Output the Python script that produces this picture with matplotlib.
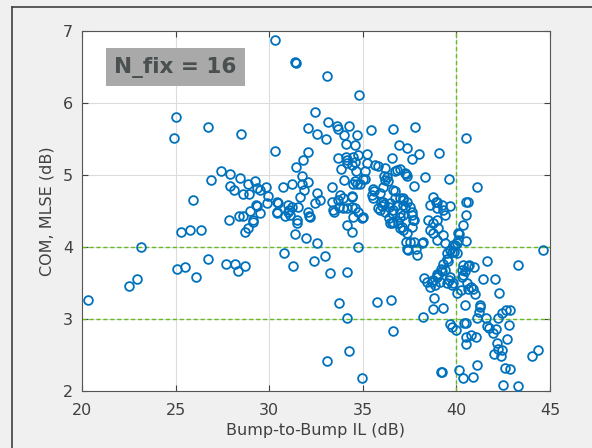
import numpy as np
import matplotlib
matplotlib.use('Agg')
import matplotlib.pyplot as plt
from matplotlib.lines import Line2D

# bump-to-bump IL (dB) and COM MLSE (dB)
il_db = [
    30.31, 31.39, 31.42, 33.10, 34.78, 25.00, 24.93, 26.73, 28.49, 30.29,
    32.45, 33.16, 32.09, 32.54, 33.60, 33.70, 34.28, 33.03, 34.01, 34.67,
    34.08, 34.60, 35.45, 36.60, 37.79, 40.51, 32.09, 31.82, 36.92, 37.38,
    38.00, 39.07, 37.61, 35.20, 33.69, 34.10, 34.49, 34.14, 34.40, 31.43,
    33.82, 35.65, 35.83, 36.56, 35.24, 34.64, 36.19, 36.81, 37.31, 31.75,
    31.23, 30.75, 32.09, 38.32, 39.60, 33.98, 34.70, 35.12, 36.15, 36.36,
    37.74, 33.36, 31.88, 31.65, 32.54, 32.71, 32.45, 34.40, 35.60, 35.56,
    36.10, 36.42, 36.72, 36.72, 37.17, 37.35, 37.13, 38.73, 38.89, 39.66,
    40.54, 30.99, 31.08, 30.99, 33.34, 33.75, 33.96, 34.58, 34.76, 32.09,
    32.18, 33.46, 30.84, 35.92, 36.19, 36.54, 37.61, 37.70, 38.94, 39.30,
    39.39, 40.54,
    27.41, 27.92, 28.42, 26.89, 27.89, 28.12, 28.88, 29.24, 29.33, 29.51,
    29.83, 28.58, 28.90, 29.92, 25.95, 30.40, 29.28, 28.97, 28.40, 28.62,
    30.43, 29.15, 27.85, 29.90, 29.33, 29.15, 28.88, 28.70, 25.29, 25.77,
    26.37, 26.71, 27.69, 28.17, 28.71, 25.50, 25.06, 20.34, 23.13, 22.51,
    22.94, 26.07, 28.33,
    31.47, 31.50, 32.14, 31.38, 31.97, 32.54, 34.17, 34.41, 34.73, 30.79,
    31.29, 32.39, 32.98, 33.25, 34.16, 33.75, 34.16, 35.74, 36.49, 36.61,
    33.07, 34.24, 34.97, 38.24, 38.82, 38.73, 39.27, 39.67, 39.78, 39.96,
    39.16, 40.14, 40.34, 36.42, 36.54, 36.90, 36.99, 37.13, 37.35, 37.74,
    37.31, 37.52, 37.74, 38.23, 37.34, 37.82, 37.87, 38.51, 38.76, 38.94,
    39.03, 38.59, 38.76, 38.94, 39.30, 39.39, 39.80, 40.01, 40.10, 40.37,
    39.48, 39.75, 39.89, 39.57, 39.30, 39.16, 39.39, 38.94, 38.29, 38.45,
    38.76, 38.94, 39.12, 38.86, 39.62, 39.75, 40.01, 40.28, 40.34, 40.64,
    40.25, 40.64, 40.46, 40.42, 40.54, 40.51,
    41.08, 40.64, 40.16, 40.54, 44.61, 41.62, 43.31, 40.69, 40.96, 41.40,
    42.06, 40.76, 40.87, 40.99, 42.30, 41.26, 41.26, 41.22, 41.12, 41.56,
    42.24, 42.42, 42.65, 42.86, 40.50, 41.62, 41.76, 42.81, 41.94, 42.11,
    40.76, 41.05, 42.69, 42.15, 42.03, 42.24, 42.42, 42.38, 44.34, 44.05,
    42.60, 42.86, 41.08, 40.90, 42.51, 43.31, 39.21,
    34.58, 35.12, 35.02, 34.58, 34.85, 36.27, 36.19, 36.10, 36.72, 36.99,
    37.25, 37.35, 35.56, 35.48, 35.92, 36.63, 34.41, 35.96, 36.01, 35.83,
    36.13, 36.99, 37.16, 37.25, 37.52, 36.63, 36.99, 37.16, 37.61, 38.95,
    39.22, 35.03, 34.14, 34.76, 31.74, 33.78, 33.96, 33.69, 34.49, 31.55,
    30.49, 30.40, 31.11, 31.20, 29.51, 33.42, 34.14, 34.41, 34.94, 34.49,
    36.45, 36.81, 36.99, 36.63, 37.07, 37.61, 36.45, 38.15, 37.43, 38.59,
    40.10, 39.93, 39.66, 40.01, 39.48, 39.21, 39.03, 39.66, 39.84, 39.48,
    40.37, 40.46, 40.28, 40.55, 38.68, 38.59,
]
com_db = [
    6.88, 6.57, 6.55, 6.37, 6.11, 5.80, 5.51, 5.67, 5.57, 5.34,
    5.87, 5.74, 5.65, 5.57, 5.68, 5.64, 5.68, 5.50, 5.56, 5.56,
    5.43, 5.42, 5.63, 5.64, 5.66, 5.52, 5.32, 5.21, 5.42, 5.38,
    5.29, 5.30, 5.22, 5.29, 5.23, 5.25, 5.25, 5.16, 5.14, 5.11,
    5.08, 5.14, 5.12, 5.23, 5.16, 5.05, 5.10, 5.07, 5.01, 4.99,
    4.88, 4.84, 4.90, 4.97, 4.94, 4.93, 4.88, 4.95, 4.98, 4.92,
    4.85, 4.83, 4.79, 4.70, 4.75, 4.65, 4.61, 4.71, 4.78, 4.68,
    4.63, 4.56, 4.78, 4.68, 4.68, 4.62, 4.58, 4.70, 4.62, 4.57,
    4.62, 4.58, 4.51, 4.49, 4.63, 4.56, 4.54, 4.54, 4.49, 4.48,
    4.42, 4.48, 4.43, 4.51, 4.49, 4.47, 4.49, 4.38, 4.54, 4.51,
    4.44, 4.44,
    5.06, 5.01, 4.96, 4.93, 4.85, 4.79, 4.88, 4.92, 4.82, 4.79,
    4.84, 4.74, 4.74, 4.71, 4.65, 4.62, 4.58, 4.50, 4.43, 4.43,
    4.47, 4.38, 4.38, 4.61, 4.57, 4.35, 4.27, 4.21, 4.21, 4.24,
    4.24, 3.83, 3.77, 3.76, 3.73, 3.72, 3.69, 3.26, 4.00, 3.46,
    3.55, 3.58, 3.66,
    4.38, 4.33, 4.43, 4.18, 4.12, 4.05, 4.31, 4.21, 4.00, 3.91,
    3.73, 3.81, 3.88, 3.64, 3.65, 3.22, 3.02, 3.23, 3.26, 2.83,
    2.42, 2.55, 2.18, 3.03, 3.29, 3.14, 3.15, 2.93, 2.89, 2.85,
    2.26, 2.29, 2.18, 4.40, 4.33, 4.33, 4.26, 4.24, 4.19, 4.38,
    4.07, 4.07, 4.07, 4.07, 3.97, 3.97, 3.89, 4.38, 4.33, 4.38,
    4.26, 4.24, 4.19, 4.10, 4.17, 4.05, 4.03, 4.05, 4.19, 4.31,
    3.91, 3.93, 3.93, 3.80, 3.77, 3.70, 3.68, 3.63, 3.57, 3.52,
    3.54, 3.59, 3.52, 3.47, 3.54, 3.47, 3.36, 3.68, 3.61, 3.73,
    3.40, 3.41, 3.19, 2.94, 2.75, 2.65,
    4.84, 4.62, 4.18, 4.09, 3.96, 3.80, 3.75, 3.75, 3.72, 3.55,
    3.55, 3.45, 3.41, 3.35, 3.36, 3.20, 3.16, 3.10, 3.02, 3.02,
    3.02, 3.08, 3.12, 3.13, 2.95, 2.90, 2.87, 2.92, 2.80, 2.86,
    2.78, 2.75, 2.72, 2.66, 2.51, 2.58, 2.57, 2.48, 2.57, 2.48,
    2.32, 2.31, 2.36, 2.19, 2.09, 2.07, 2.27,
    5.18, 5.05, 4.95, 4.91, 4.87, 4.97, 4.93, 4.84, 5.05, 5.08,
    5.03, 4.98, 4.80, 4.72, 4.75, 4.79, 4.70, 4.63, 4.57, 4.54,
    4.60, 4.68, 4.65, 4.56, 4.55, 4.51, 4.47, 4.44, 4.44, 4.63,
    4.58, 4.42, 5.21, 5.28, 4.88, 4.72, 4.68, 4.65, 4.88, 4.56,
    4.61, 4.49, 4.44, 4.56, 4.47, 4.51, 4.54, 4.56, 4.40, 4.42,
    4.61, 4.58, 4.42, 4.35, 4.28, 4.28, 4.33, 4.05, 3.96, 4.58,
    4.10, 4.03, 3.96, 3.91, 3.84, 3.66, 3.61, 3.59, 3.50, 3.50,
    3.75, 3.66, 3.59, 3.50, 3.52, 3.45,
]

il_limit = 40
com_limits = [3, 4]
n_fix = 16

fig = plt.figure(figsize=(5.92, 4.48), dpi=100, facecolor='#f0f0f0')
ax = fig.add_axes([0.1385, 0.1272, 0.7905, 0.8036])

ax.plot(il_db, com_db, 'o', mfc='none', mec='#0072BD', mew=1.3, ms=6.3, zorder=3)

for c in com_limits:
    ax.axhline(c, color='#66bb22', ls=(0, (3, 2)), lw=1.0, zorder=2)
ax.axvline(il_limit, color='#66bb22', ls=(0, (3, 2)), lw=1.0, zorder=2)

ax.set_xlim(20, 45)
ax.set_ylim(2, 7)
ax.set_xticks(np.arange(20, 46, 5))
ax.set_yticks(np.arange(2, 8, 1))
ax.grid(True, color='#dcdcdc', lw=0.8)
ax.set_axisbelow(True)
ax.tick_params(direction='in', top=True, right=True, labelsize=11.5, colors='#404040', length=4)
ax.tick_params(axis='x', pad=8.5)
ax.tick_params(axis='y', pad=6.5)
for s in ax.spines.values():
    s.set_color('#555555')
    s.set_linewidth(0.8)

ax.set_xlabel('Bump-to-Bump IL (dB)', fontsize=11.5, color='#404040', labelpad=4)
ax.set_ylabel('COM, MLSE (dB)', fontsize=11.5, color='#404040', labelpad=6)

ax.text(0.069, 0.9, f'N_fix = {n_fix}', transform=ax.transAxes, fontsize=15.5,
        fontweight='bold', color='#4a4f4f', family=['Liberation Sans Narrow', 'DejaVu Sans'],
        va='center', ha='left',
        bbox=dict(facecolor='#a9a9a9', edgecolor='none', pad=6))

# thin dark frame along the left and top edge of the screenshot
fig.add_artist(Line2D([12 / 592, 12 / 592], [0, 1 - 7 / 448], color='#404040', lw=1.2))
fig.add_artist(Line2D([12 / 592, 1], [1 - 7 / 448, 1 - 7 / 448], color='#404040', lw=1.2))

fig.savefig('out.png', dpi=100, facecolor=fig.get_facecolor())
